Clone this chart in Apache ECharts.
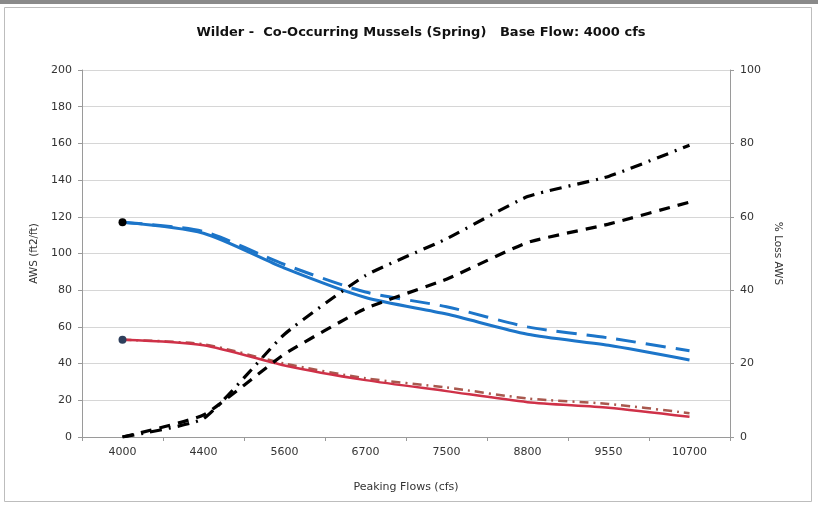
<!DOCTYPE html>
<html>
<head>
<meta charset="utf-8">
<script src="https://cdn.jsdelivr.net/npm/echarts@6/dist/echarts.min.js"></script>
<style>html,body{margin:0;padding:0;background:#fff}#c{width:818px;height:507px}</style>
</head>
<body>
<div id="c"></div>
<script>
var categories = ['4000','4400','5600','6700','7500','8800','9550','10700'];
var blueSolid  = [117, 111, 92, 76, 67, 56, 50, 42];
var blueDashed = [117, 112, 94, 79, 71, 60, 54, 47];
var redSolid   = [53, 50, 39, 31, 25, 19, 16, 11];
var redDashDot = [53, 50.5, 40, 32, 27, 21, 18, 13];
var lossDashed = [0, 6, 22.6, 35, 43, 53, 58, 64];
var lossDashDot = [0, 5, 28, 44, 54, 65.5, 71, 79.5];
var leftTicks = [0, 20, 40, 60, 80, 100, 120, 140, 160, 180, 200];
var rightTicks = [0, 20, 40, 60, 80, 100];

function firstDot(arr, color) {
  return arr.map(function (v, i) {
    if (i === 0) return { value: v, symbol: 'circle', symbolSize: 8, itemStyle: { color: color } };
    return v;
  });
}

var font = 'DejaVu Sans, Liberation Sans, Arial, sans-serif';
var chart = echarts.init(document.getElementById('c'), null, { renderer: 'canvas' });
chart.setOption({
  animation: false,
  backgroundColor: '#fff',
  title: {
    text: 'Wilder -  Co-Occurring Mussels (Spring)   Base Flow: 4000 cfs',
    left: 416, top: 21, textAlign: 'center',
    textStyle: { fontFamily: font, fontSize: 13, fontWeight: 'bold', color: '#111' }
  },
  graphic: [
    { type: 'rect', shape: { x: 0, y: 0, width: 818, height: 4 }, style: { fill: '#8a8a8a' }, silent: true },
    { type: 'rect', shape: { x: 4.5, y: 7.5, width: 807, height: 494 }, style: { fill: 'none', stroke: '#bdbdbd', lineWidth: 1 }, silent: true }
  ],
  grid: { left: 82, right: 88, top: 70, bottom: 70, containLabel: false },
  xAxis: {
    type: 'category', data: categories, boundaryGap: true,
    name: 'Peaking Flows (cfs)', nameLocation: 'middle', nameGap: 45,
    nameTextStyle: { fontFamily: font, fontSize: 11, color: '#333' },
    axisLine: { lineStyle: { color: '#9a9a9a', width: 1 } },
    axisTick: { show: true, length: 4, lineStyle: { color: '#9a9a9a' } },
    axisLabel: { fontFamily: font, fontSize: 11, color: '#333', margin: 10 }
  },
  yAxis: [
    {
      type: 'value', min: 0, max: 200, interval: 20,
      name: 'AWS (ft2/ft)', nameLocation: 'middle', nameGap: 30, nameRotate: 90,
      nameTextStyle: { fontFamily: font, fontSize: 10.5, color: '#333' },
      axisLine: { show: true, lineStyle: { color: '#9a9a9a' } },
      axisTick: { show: true, length: 4, lineStyle: { color: '#9a9a9a' } },
      axisLabel: { fontFamily: font, fontSize: 11, color: '#333', margin: 10,
        formatter: function (v) { return leftTicks.indexOf(v) >= 0 ? String(v) : ''; } },
      splitLine: { show: true, lineStyle: { color: '#d6d6d6', width: 1 } }
    },
    {
      type: 'value', min: 0, max: 100, interval: 20,
      name: '% Loss AWS', nameLocation: 'middle', nameGap: 40, nameRotate: -90,
      nameTextStyle: { fontFamily: font, fontSize: 10.5, color: '#333' },
      axisLine: { show: true, lineStyle: { color: '#9a9a9a' } },
      axisTick: { show: true, length: 4, lineStyle: { color: '#9a9a9a' } },
      axisLabel: { fontFamily: font, fontSize: 11, color: '#333', margin: 10,
        formatter: function (v) { return rightTicks.indexOf(v) >= 0 ? String(v) : ''; } },
      splitLine: { show: false }
    }
  ],
  series: [
    { name: 'Blue dashed', type: 'line', yAxisIndex: 0, data: blueDashed, smooth: 0.25, symbol: 'none',
      lineStyle: { color: '#1c75c9', width: 3, type: [20, 10] } },
    { name: 'Blue solid', type: 'line', yAxisIndex: 0, data: firstDot(blueSolid, '#000'), smooth: 0.25, symbol: 'none',
      lineStyle: { color: '#1c75c9', width: 3 }, itemStyle: { color: '#1c75c9' } },
    { name: 'Red dash-dot', type: 'line', yAxisIndex: 0, data: redDashDot, smooth: 0.25, symbol: 'none',
      lineStyle: { color: '#a9584e', width: 2.5, type: [9, 5, 2, 5] } },
    { name: 'Red solid', type: 'line', yAxisIndex: 0, data: firstDot(redSolid, '#2e3f5c'), smooth: 0.25, symbol: 'none',
      lineStyle: { color: '#cf3148', width: 2.5 }, itemStyle: { color: '#cf3148' } },
    { name: 'Loss dashed', type: 'line', yAxisIndex: 1, data: lossDashed, smooth: 0.15, symbol: 'none',
      lineStyle: { color: '#000', width: 3.2, type: [11, 8] } },
    { name: 'Loss dash-dot', type: 'line', yAxisIndex: 1, data: lossDashDot, smooth: 0.15, symbol: 'none',
      lineStyle: { color: '#000', width: 3.2, type: [12, 7, 2, 7] } }
  ]
});
</script>
</body>
</html>
